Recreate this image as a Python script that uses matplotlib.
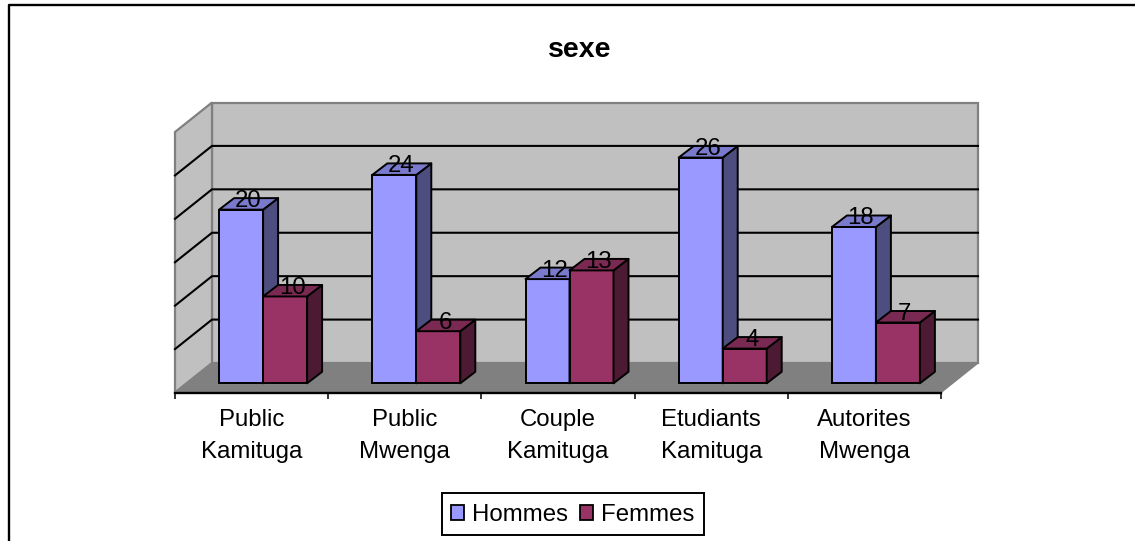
import matplotlib
matplotlib.use("Agg")
import matplotlib.pyplot as plt
from matplotlib.patches import Polygon, Rectangle, Patch

categories = ["Public\nKamituga", "Public\nMwenga", "Couple\nKamituga", "Etudiants\nKamituga", "Autorites\nMwenga"]
hommes = [20, 24, 12, 26, 18]
femmes = [10, 6, 13, 4, 7]
series_names = ["Hommes", "Femmes"]
title = "sexe"

W, H = 1135, 541
FS = 17.3
plt.rcParams['font.family'] = ['Liberation Sans', 'DejaVu Sans']
fig = plt.figure(figsize=(W / 100, H / 100), dpi=100, facecolor="white")

# outer chart frame (top and left edges are inside the image)
bg = fig.add_axes([0, 0, 1, 1])
bg.set_xlim(0, W); bg.set_ylim(H, 0); bg.axis("off")
bg.plot([8.5, 8.5, 1140], [545, 4.5, 4.5], color="black", lw=1.7, clip_on=False)
bg.add_patch(Rectangle((441.5, 492.5), 262, 42.5, fc="white", ec="black", lw=1.4))

# plot axes = front plane of the 3D box
px0, px1, py0, py1 = 175, 941, 392.5, 132
ax = fig.add_axes([px0 / W, 1 - py0 / H, (px1 - px0) / W, (py0 - py1) / H])
ax.set_xlim(0, 5); ax.set_ylim(0, 30)
ax.patch.set_visible(False)
for s in ax.spines.values():
    s.set_visible(False)

ux = (px1 - px0) / 5      # px per category
uy = (py0 - py1) / 30     # px per value unit
DX, DY = 37 / ux, 29.5 / uy          # full depth of the box
bdx, bdy = 15 / ux, 11.5 / uy        # depth of one bar
sx, sy = 11.5 / ux, 9.2 / uy         # where bars stand on the floor
bw = 44 / ux

WALL, FLOOR, EDGE = "#C0C0C0", "#808080", "#808080"
ax.add_patch(Polygon([(DX, DY), (5 + DX, DY), (5 + DX, 30 + DY), (DX, 30 + DY)], fc=WALL, ec=EDGE, lw=1.6, clip_on=False, zorder=1))
ax.add_patch(Polygon([(0, 0), (DX, DY), (DX, 30 + DY), (0, 30)], fc=WALL, ec=EDGE, lw=1.6, clip_on=False, zorder=1))
ax.add_patch(Polygon([(0, 0), (DX, DY), (5 + DX, DY), (5, 0)], fc=FLOOR, ec=EDGE, lw=1.0, clip_on=False, zorder=1))

for v in range(5, 30, 5):
    ax.plot([0, DX, 5 + DX], [v, v + DY, v + DY], color="black", lw=1.5, clip_on=False, zorder=2, solid_joinstyle="miter")


def draw_bar(x, v, front, side, top, z):
    b = sy
    ax.bar(x, v, width=bw, bottom=b, align="edge", color=front, edgecolor="black", linewidth=1.4, zorder=z, clip_on=False)
    ax.add_patch(Polygon([(x + bw, b), (x + bw + bdx, b + bdy), (x + bw + bdx, b + v + bdy), (x + bw, b + v)],
                         fc=side, ec="black", lw=1.4, zorder=z, clip_on=False, joinstyle="round"))
    ax.add_patch(Polygon([(x, b + v), (x + bdx, b + v + bdy), (x + bw + bdx, b + v + bdy), (x + bw, b + v)],
                         fc=top, ec="black", lw=1.4, zorder=z, clip_on=False, joinstyle="round"))


for i, (h, f) in enumerate(zip(hommes, femmes)):
    xh = i + 0.5 + sx - bw
    xf = i + 0.5 + sx
    draw_bar(xh, h, "#9999FF", "#4D4D80", "#7A7ACC", 10 + 2 * i)
    draw_bar(xf, f, "#993366", "#4D1A33", "#7A2952", 11 + 2 * i)

for i, (h, f) in enumerate(zip(hommes, femmes)):
    for off, v in ((-bw / 2, h), (bw / 2, f)):
        ax.text(i + 0.5 + sx + off + 7 / ux, sy + v + bdy - 3 / uy, str(v), ha="center", va="center",
                fontsize=FS, color="black", zorder=50, clip_on=False)

# axis line, ticks, category labels
ax.plot([0, 5], [0, 0], color="black", lw=1.7, clip_on=False, zorder=5)
ax.set_yticks([])
ax.set_xticks(range(6))
ax.set_xticklabels([])
ax.tick_params(axis="x", which="major", length=4.0, width=1.1, color="black")
ax.set_xticks([i + 0.5 for i in range(5)], minor=True)
ax.set_xticklabels(categories, minor=True, fontsize=FS, linespacing=1.58)
ax.tick_params(axis="x", which="minor", length=0, pad=12)

fig.text(580 / W, 1 - 50 / H, title, ha="center", va="center", fontsize=20.5, fontweight="bold")

handles = [Patch(fc="#9999FF", ec="black", lw=1.3, label=series_names[0]),
           Patch(fc="#993366", ec="black", lw=1.3, label=series_names[1])]
leg = fig.legend(handles=handles, loc="center", bbox_to_anchor=(573 / W, 1 - 515 / H), ncol=2,
                 fontsize=FS, frameon=False, handlelength=0.54, handleheight=0.56, handletextpad=0.33,
                 columnspacing=0.5, borderpad=0, borderaxespad=0)

fig.savefig("out.png", dpi=100)
